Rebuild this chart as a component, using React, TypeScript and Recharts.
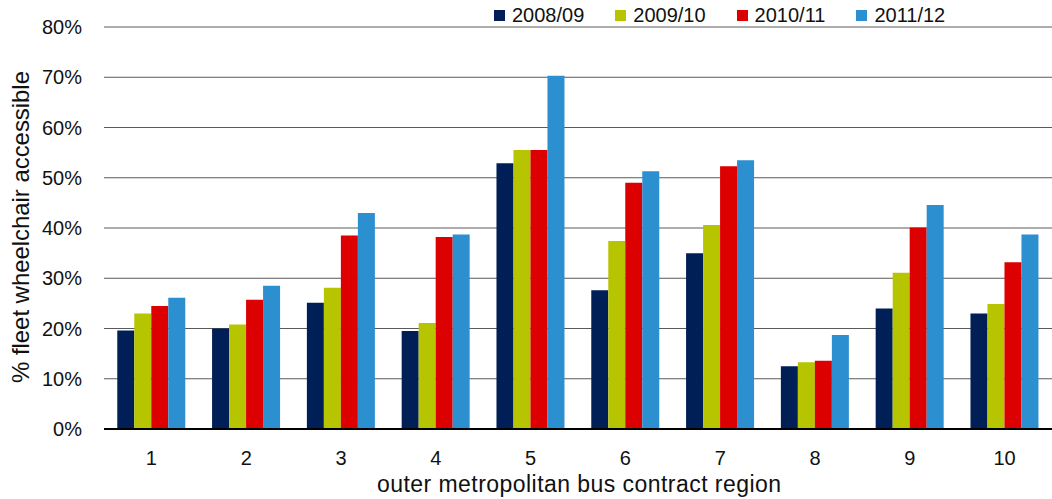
import React from 'react'
import {
  BarChart, Bar, XAxis, YAxis, CartesianGrid, Legend, Label,
} from 'recharts'

const regions = ['1', '2', '3', '4', '5', '6', '7', '8', '9', '10']
const fy0809 = [19.6, 20.0, 25.1, 19.5, 52.9, 27.6, 35.0, 12.5, 24.0, 23.0]
const fy0910 = [23.0, 20.8, 28.1, 21.1, 55.5, 37.4, 40.6, 13.3, 31.1, 24.9]
const fy1011 = [24.5, 25.7, 38.5, 38.2, 55.5, 49.0, 52.3, 13.6, 40.1, 33.2]
const fy1112 = [26.1, 28.5, 43.0, 38.7, 70.3, 51.3, 53.5, 18.7, 44.6, 38.7]
const yTicks = [0, 10, 20, 30, 40, 50, 60, 70, 80]

const series = [
  { key: 'y0809', name: '2008/09', color: '#001f56' },
  { key: 'y0910', name: '2009/10', color: '#b7c400' },
  { key: 'y1011', name: '2010/11', color: '#dc0000' },
  { key: 'y1112', name: '2011/12', color: '#2b8fd0' },
]

const data = regions.map((r, i) => ({
  region: r,
  y0809: fy0809[i],
  y0910: fy0910[i],
  y1011: fy1011[i],
  y1112: fy1112[i],
}))

const FONT = '"Liberation Sans", Arial, sans-serif'

function LegendRow() {
  return (
    <div style={{ display: 'flex', fontFamily: FONT, fontSize: 20, color: '#111', lineHeight: '22px' }}>
      {series.map((s) => (
        <div key={s.key} style={{ display: 'flex', alignItems: 'center', marginRight: 31 }}>
          <span style={{ width: 11, height: 11, background: s.color, marginRight: 7, display: 'inline-block' }} />
          <span>{s.name}</span>
        </div>
      ))}
    </div>
  )
}

export default function App() {
  return (
    <div style={{ position: 'absolute', left: 0, top: 0, background: '#fff' }}>
      <BarChart
        width={1052}
        height={499}
        data={data}
        margin={{ top: 27, right: 0, left: 0, bottom: 0 }}
        barCategoryGap="14%"
        barGap={0}
      >
        <CartesianGrid vertical={false} stroke="#5a5a5a" strokeWidth={1} />
        <XAxis
          dataKey="region"
          height={70}
          tickLine={false}
          axisLine={{ stroke: '#000', strokeWidth: 2 }}
          tickMargin={16}
          tick={{ fill: '#111', fontSize: 20, fontFamily: FONT }}
        >
          <Label
            content={() => (
              <text
                x={579}
                y={492}
                textAnchor="middle"
                fontSize={23}
                fontFamily={FONT}
                fill="#111"
                textLength={404}
                lengthAdjust="spacing"
              >
                outer metropolitan bus contract region
              </text>
            )}
          />
        </XAxis>
        <YAxis
          width={104}
          domain={[0, 80]}
          ticks={yTicks}
          tickFormatter={(v) => `${v}%`}
          axisLine={false}
          tickLine={false}
          tickMargin={16}
          tick={{ fill: '#111', fontSize: 20, fontFamily: FONT }}
        >
          <Label
            content={() => (
              <text
                x={29}
                y={227}
                transform="rotate(-90 29 227)"
                textAnchor="middle"
                fontSize={24}
                fontFamily={FONT}
                fill="#111"
                textLength={312}
                lengthAdjust="spacing"
              >
                % fleet wheelchair accessible
              </text>
            )}
          />
        </YAxis>
        <Legend
          layout="horizontal"
          verticalAlign="middle"
          align="center"
          content={() => <LegendRow />}
          wrapperStyle={{ top: 4, left: 494, width: 500 }}
        />
        {series.map((s) => (
          <Bar key={s.key} dataKey={s.key} name={s.name} fill={s.color} isAnimationActive={false} />
        ))}
      </BarChart>
    </div>
  )
}
